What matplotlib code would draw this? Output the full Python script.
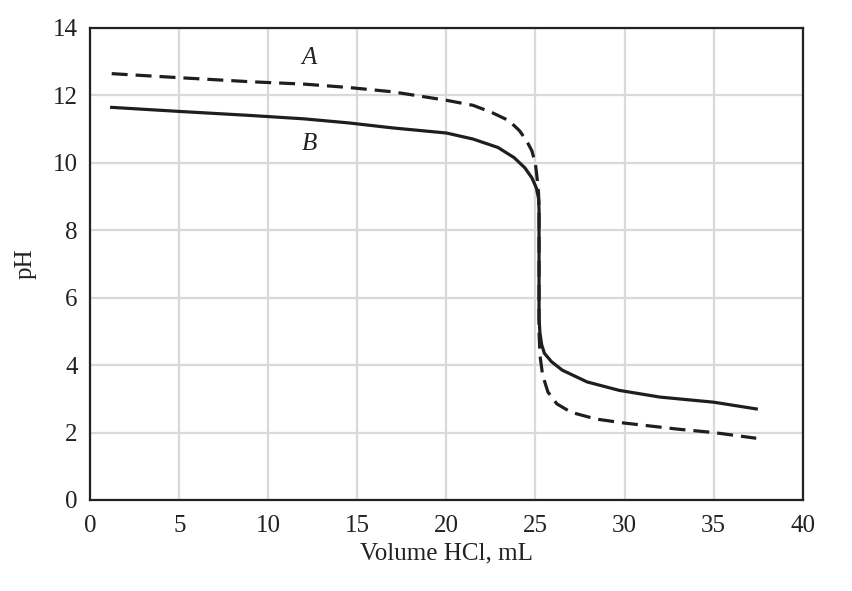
import matplotlib
matplotlib.use("Agg")
import matplotlib.pyplot as plt

# 曲线 A（虚线）
vol_a = [1.2, 5, 9, 12, 14.5, 17, 20, 21.5, 22.5, 23.5, 24.1, 24.5, 24.8, 25.0,
         25.1, 25.17, 25.2, 25.2, 25.25, 25.4, 25.7, 26.2, 27, 28.4, 30, 33, 35, 37.4]
ph_a = [12.64, 12.52, 12.4, 12.33, 12.23, 12.1, 11.85, 11.7, 11.5, 11.25, 10.95,
        10.65, 10.35, 9.95, 9.5, 9.1, 8.7, 5.0, 4.3, 3.7, 3.2, 2.85, 2.6, 2.4,
        2.28, 2.1, 2.0, 1.83]

# 曲线 B（实线）
vol_b = [1.2, 5, 9, 12, 14.5, 17, 20, 21.5, 22.9, 23.8, 24.4, 24.8, 25.05, 25.17,
         25.2, 25.2, 25.25, 25.35, 25.5, 25.9, 26.5, 27.9, 29.7, 32, 35, 37.4]
ph_b = [11.64, 11.52, 11.4, 11.3, 11.18, 11.03, 10.88, 10.7, 10.45, 10.15, 9.85,
        9.55, 9.25, 8.95, 8.6, 5.4, 4.95, 4.6, 4.35, 4.1, 3.85, 3.5, 3.25, 3.05,
        2.9, 2.7]

x_ticks = [0, 5, 10, 15, 20, 25, 30, 35, 40]
y_ticks = [0, 2, 4, 6, 8, 10, 12, 14]

plt.rcParams['font.family'] = ['Liberation Serif', 'DejaVu Serif']

fig = plt.figure(figsize=(8.52, 5.91), dpi=100, facecolor='white')
ax = fig.add_axes([0.106, 0.154, 0.836, 0.799])

ax.grid(True, color='#d9d9d9', linewidth=1.6)
ax.set_axisbelow(True)

ax.plot(vol_a, ph_a, color='#1e1e1e', lw=2.3, dashes=(5, 2.5))
ax.plot(vol_b, ph_b, color='#1e1e1e', lw=2.3)

ax.text(12.3, 13.1, 'A', fontsize=18, style='italic', ha='center', va='center', color='#222222')
ax.text(12.3, 10.55, 'B', fontsize=18, style='italic', ha='center', va='center', color='#222222')

ax.set_xlim(0, 40)
ax.set_ylim(0, 14)
ax.set_xticks(x_ticks)
ax.set_yticks(y_ticks)
ax.tick_params(axis='both', length=0, labelsize=18, colors='#222222')
ax.tick_params(axis='x', pad=11)
ax.tick_params(axis='y', pad=9)

for s in ax.spines.values():
    s.set_color('#222222')
    s.set_linewidth(1.6)

ax.set_xlabel('Volume HCl, mL', fontsize=18, color='#222222', labelpad=4)
ax.set_ylabel('pH', fontsize=18, color='#222222', labelpad=12)

fig.savefig('out.png', dpi=100, facecolor='white')
